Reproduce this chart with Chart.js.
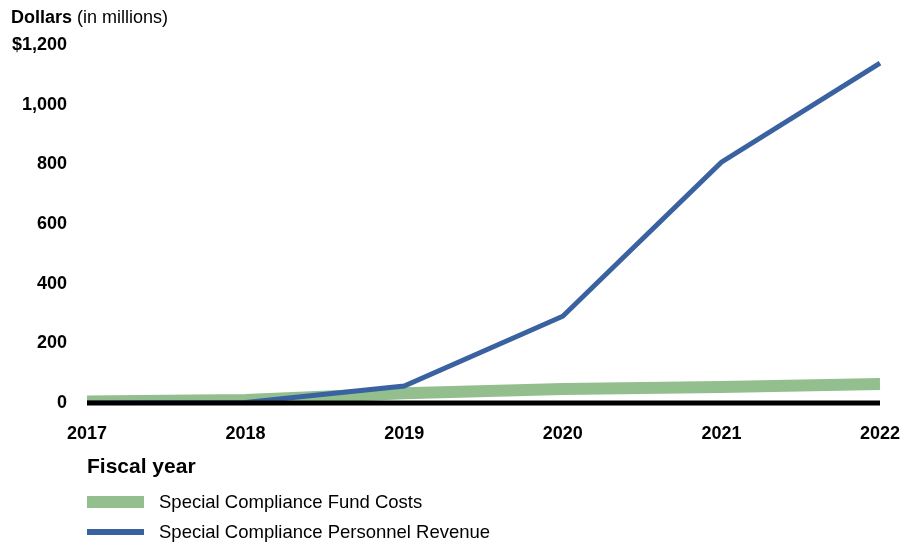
<!DOCTYPE html>
<html>
<head>
<meta charset="utf-8">
<script src="https://cdn.jsdelivr.net/npm/chart.js@4/dist/chart.umd.min.js"></script>
<style>
  html, body { margin: 0; padding: 0; background: #fff; }
  body { width: 913px; height: 542px; position: relative; overflow: hidden;
         font-family: "Liberation Sans", Arial, sans-serif; color: #000; }
  #wrap { position: absolute; left: 0; top: 0; width: 913px; height: 542px; }
  .lbl { position: absolute; white-space: nowrap; line-height: 1; }
  .sw { position: absolute; left: 87px; width: 57px; }
</style>
</head>
<body>
<div id="wrap"><canvas id="chart"></canvas></div>
<div class="lbl" style="left:11px; top:8px; font-size:18px;"><b>Dollars</b> (in millions)</div>
<div class="lbl" style="left:87px; top:455px; font-size:21px; font-weight:bold;">Fiscal year</div>
<div class="sw" style="top:496px; height:12px; background:#93bf8f;"></div>
<div class="lbl" style="left:159px; top:493px; font-size:18.5px;">Special Compliance Fund Costs</div>
<div class="sw" style="top:529px; height:6px; background:#3a62a0;"></div>
<div class="lbl" style="left:159px; top:523px; font-size:18.5px;">Special Compliance Personnel Revenue</div>
<script>
// fiscal years and values (in millions)
var years = ["2017", "2018", "2019", "2020", "2021", "2022"];
var fundCosts = [5, 10, 33, 47, 54, 64];
var personnelRevenue = [0, 2, 57, 291, 807, 1139];
var yTicks = [0, 200, 400, 600, 800, 1000, 1200];

// thick black baseline at zero, drawn over the lines
var zeroLine = {
  id: "zeroLine",
  afterDatasetsDraw: function(chart) {
    var ctx = chart.ctx;
    var y = chart.scales.y.getPixelForValue(0);
    ctx.save();
    ctx.strokeStyle = "#000";
    ctx.lineWidth = 5;
    ctx.beginPath();
    ctx.moveTo(chart.chartArea.left, y);
    ctx.lineTo(chart.chartArea.right, y);
    ctx.stroke();
    ctx.restore();
  }
};

new Chart("chart", {
  type: "line",
  data: {
    labels: years,
    datasets: [{
      data: fundCosts,
      borderColor: "#93bf8f",
      borderWidth: 12,
      pointRadius: 0,
      fill: false,
      order: 2
    }, {
      data: personnelRevenue,
      borderColor: "#3a62a0",
      borderWidth: 5,
      pointRadius: 0,
      fill: false,
      order: 1
    }]
  },
  options: {
    responsive: true,
    maintainAspectRatio: false,
    animation: false,
    layout: { padding: { top: 45, right: 33, left: 0, bottom: 0 } },
    plugins: { legend: { display: false }, tooltip: { enabled: false } },
    scales: {
      x: {
        grid: { display: false, drawTicks: false },
        border: { display: false },
        offset: false,
        ticks: {
          color: "#000",
          padding: 20,
          maxRotation: 0,
          font: { family: "Liberation Sans", size: 18, weight: "bold" }
        },
        afterFit: function(s) {
          s.height = 139;
          s.paddingLeft = 0;
          s.paddingRight = 0;
        }
      },
      y: {
        min: 0,
        max: 1200,
        grid: { display: false, drawTicks: false },
        border: { display: false },
        afterBuildTicks: function(s) {
          s.ticks = yTicks.map(function(v) { return { value: v }; });
        },
        ticks: {
          color: "#000",
          padding: 20,
          font: { family: "Liberation Sans", size: 18, weight: "bold" },
          callback: function(v) {
            var t = v.toLocaleString("en-US");
            return v === 1200 ? "$" + t : t;
          }
        },
        afterFit: function(s) {
          s.width = 87;
          s.paddingTop = 0;
          s.paddingBottom = 0;
        }
      }
    }
  },
  plugins: [zeroLine]
});
</script>
</body>
</html>
